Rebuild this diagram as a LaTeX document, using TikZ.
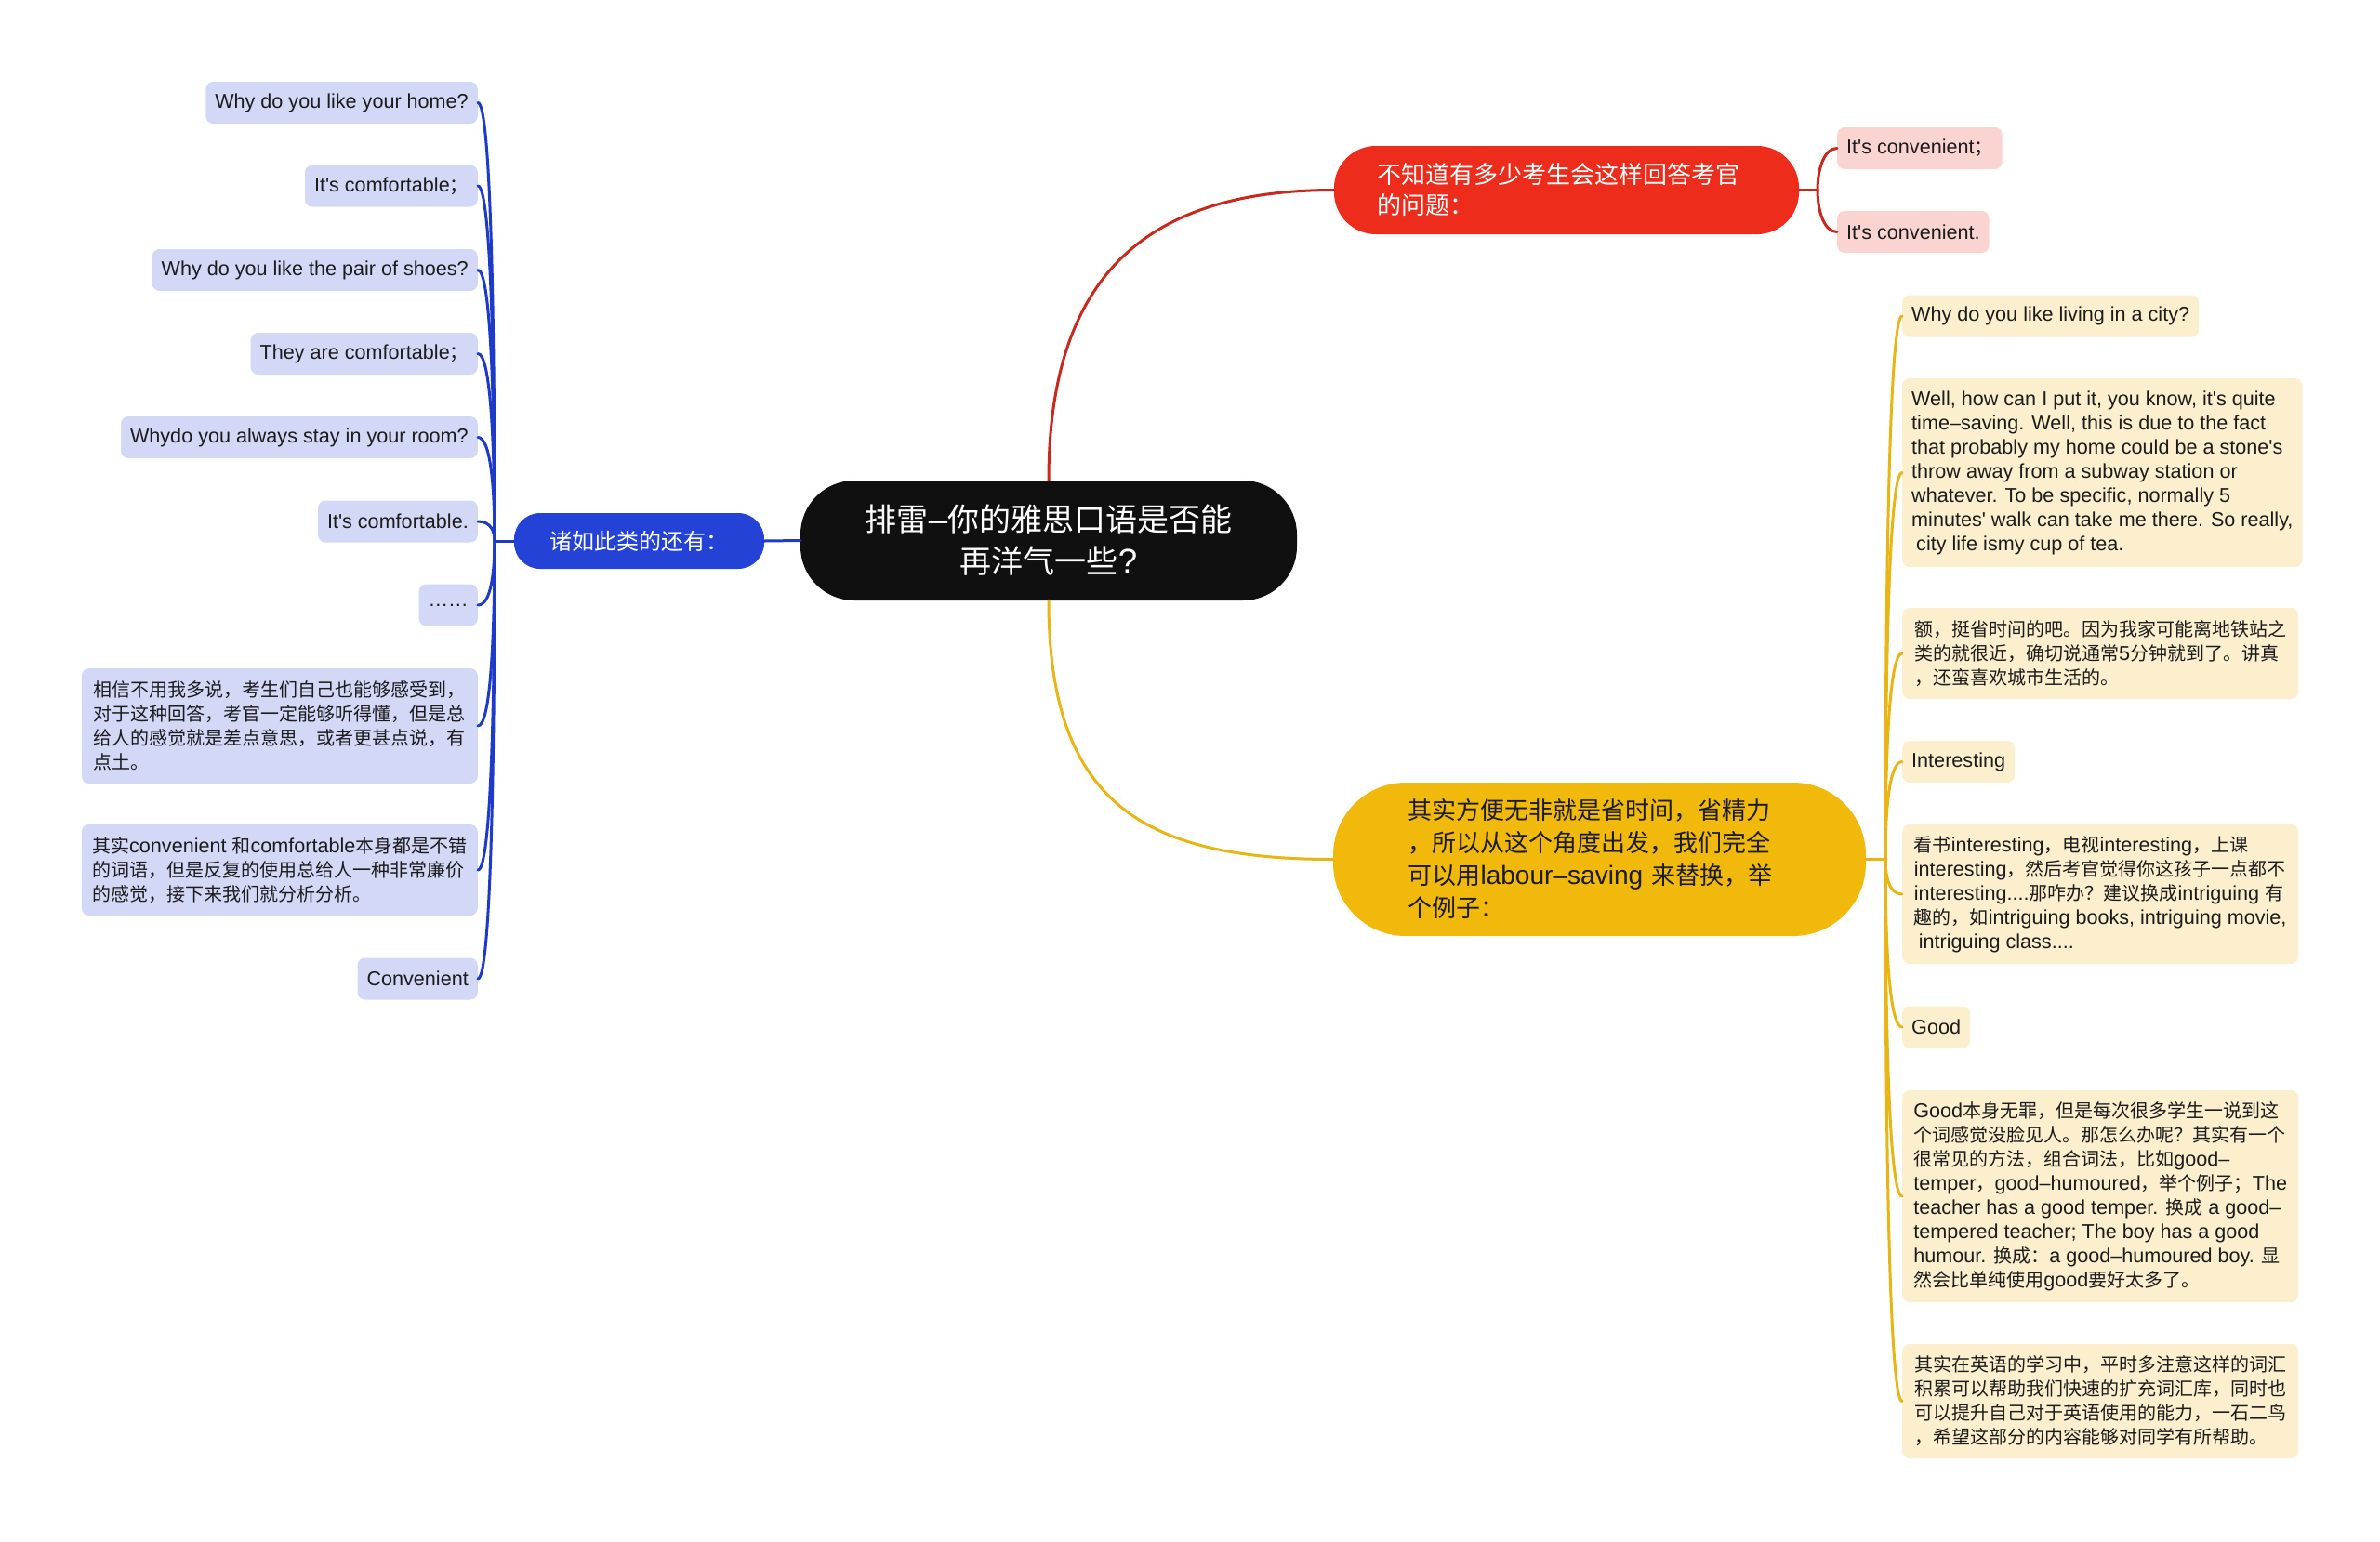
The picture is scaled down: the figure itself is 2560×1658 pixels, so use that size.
\documentclass[tikz,border=0pt]{standalone}
\usepackage{fontspec}
\setmainfont{Liberation Sans}[Scale=1.08, Ligatures=TeXOff]
\newfontfamily\cjkfont{Noto Sans CJK SC}
\XeTeXinterchartokenstate=1
\newXeTeXintercharclass\CJKcls
\newcount\cjkc
\def\setcjkrange#1#2{\cjkc=#1\relax\loop\XeTeXcharclass\cjkc=\CJKcls\ifnum\cjkc<#2\advance\cjkc by 1\repeat}
\setcjkrange{"4E00}{"9FFF}
\setcjkrange{"3000}{"303F}
\setcjkrange{"FF00}{"FFEF}
\XeTeXinterchartoks 0 \CJKcls = {\begingroup\cjkfont}
\XeTeXinterchartoks 4095 \CJKcls = {\begingroup\cjkfont}
\XeTeXinterchartoks \CJKcls 0 = {\endgroup}
\XeTeXinterchartoks \CJKcls 4095 = {\endgroup}
\usetikzlibrary{calc}
\definecolor{cblue}{HTML}{2443D6}
\definecolor{lblue}{HTML}{D3D8F7}
\definecolor{lnblue}{HTML}{1E3AC8}
\definecolor{cred}{HTML}{EE2C1C}
\definecolor{lred}{HTML}{FAD4D0}
\definecolor{lnred}{HTML}{C9281D}
\definecolor{cyel}{HTML}{F0B90C}
\definecolor{lyel}{HTML}{FCEFCE}
\definecolor{lnyel}{HTML}{E9B514}
\definecolor{croot}{HTML}{101010}
\definecolor{txt}{HTML}{1C1C1C}
\newcommand\rconn[3]{\draw[#1] (#2) .. controls ($(#2)!0.5!(#2 |- #3.west)$) and +(-14,0) .. (#3.west);}
\newcommand\lconn[3]{\draw[#1] (#2) .. controls ($(#2)!0.5!(#2 |- #3.east)$) and +(14,0) .. (#3.east);}
\begin{document}
\begin{tikzpicture}[x=1pt,y=-1pt,
  leafbase/.style={rounded corners=8pt, inner xsep=10pt, inner ysep=0pt, minimum height=45pt,
    font=\fontsize{20}{26}\selectfont, text=txt, align=left},
  lb/.style={leafbase, fill=lblue},
  ly/.style={leafbase, fill=lyel},
  lr/.style={leafbase, fill=lred},
  cb/.style={draw=lnblue, line width=3pt, line cap=round},
  cr/.style={draw=lnred, line width=3pt, line cap=round},
  cy/.style={draw=lnyel, line width=3pt, line cap=round},
]
\fill[white] (0,0) rectangle (2560,1658);
\useasboundingbox (0,0) rectangle (2560,1658);

% main nodes
\node[fill=croot, text=white, rounded corners=58pt, minimum width=534pt, minimum height=129pt,
  align=center, font=\fontsize{34}{45}\selectfont, inner sep=0pt] (root) at (1128,581.5)
  {排雷–你的雅思口语是否能\\再洋气一些?};
\node[fill=cblue, text=white, rounded corners=28pt, minimum width=269pt, minimum height=60pt,
  font=\fontsize{24}{30}\selectfont, inner sep=0pt] (blue) at (687.5,582) {诸如此类的还有：};
\node[fill=cred, text=white, rounded corners=45pt, minimum width=500pt, minimum height=95pt,
  text width=408pt, align=left, font=\fontsize{26}{33}\selectfont, inner sep=0pt] (red) at (1685,204.5)
  {不知道有多少考生会这样回答考官\\的问题：};
\node[fill=cyel, text=txt, rounded corners=78pt, minimum width=573pt, minimum height=165pt,
  text width=412pt, align=left, font=\fontsize{26}{35}\selectfont, inner sep=0pt] (yel) at (1720.5,924.5)
  {其实方便无非就是省时间，省精力\\，所以从这个角度出发，我们完全\\可以用labour–saving 来替换，举\\个例子：};

% left (blue) leaves
\node[lb, anchor=east] (b1) at (514,110.5) {Why do you like your home?};
\node[lb, anchor=east] (b2) at (514,200) {It's comfortable；};
\node[lb, anchor=east] (b3) at (514,290.5) {Why do you like the pair of shoes?};
\node[lb, anchor=east] (b4) at (514,380.5) {They are comfortable；};
\node[lb, anchor=east] (b5) at (514,470.5) {Whydo you always stay in your room?};
\node[lb, anchor=east] (b6) at (514,561) {It's comfortable.};
\node[lb, anchor=east, minimum width=60pt] (b7) at (514,651) {……};
\node[lb, minimum width=426pt, minimum height=124pt, anchor=east] (b8) at (514,781)
  {相信不用我多说，考生们自己也能够感受到，\\对于这种回答，考官一定能够听得懂，但是总\\给人的感觉就是差点意思，或者更甚点说，有\\点土。};
\node[lb, minimum width=426pt, minimum height=98pt, anchor=east] (b9) at (514,936)
  {其实convenient 和comfortable本身都是不错\\的词语，但是反复的使用总给人一种非常廉价\\的感觉，接下来我们就分析分析。};
\node[lb, anchor=east] (b10) at (514,1053) {Convenient};

% red leaves
\node[lr, anchor=west] (r1) at (1976,159.5) {It's convenient；};
\node[lr, anchor=west] (r2) at (1976,249.5) {It's convenient.};

% yellow leaves
\node[ly, anchor=west] (y1) at (2046,340) {Why do you like living in a city?};
\node[ly, minimum width=426pt, minimum height=203pt, anchor=west] (y2) at (2046,508.5)
  {Well, how can I put it, you know, it's quite\\time–saving. Well, this is due to the fact\\that probably my home could be a stone's\\throw away from a subway station or\\whatever. To be specific, normally 5\\minutes' walk can take me there. So really,\\\hspace*{5pt}city life ismy cup of tea.};
\node[ly, minimum width=426pt, minimum height=98pt, anchor=west] (y3) at (2046,703)
  {额，挺省时间的吧。因为我家可能离地铁站之\\类的就很近，确切说通常5分钟就到了。讲真\\，还蛮喜欢城市生活的。};
\node[ly, anchor=west] (y4) at (2046,819.5) {Interesting};
\node[ly, minimum width=426pt, minimum height=150pt, anchor=west] (y5) at (2046,962)
  {看书interesting，电视interesting，上课\\interesting，然后考官觉得你这孩子一点都不\\interesting....那咋办？建议换成intriguing 有\\趣的，如intriguing books, intriguing movie,\\\hspace*{5pt}intriguing class....};
\node[ly, anchor=west] (y6) at (2046,1105) {Good};
\node[ly, minimum width=426pt, minimum height=228pt, anchor=west] (y7) at (2046,1287)
  {Good本身无罪，但是每次很多学生一说到这\\个词感觉没脸见人。那怎么办呢？其实有一个\\很常见的方法，组合词法，比如good–\\temper，good–humoured，举个例子；The\\teacher has a good temper. 换成 a good–\\tempered teacher; The boy has a good\\humour. 换成：a good–humoured boy. 显\\然会比单纯使用good要好太多了。};
\node[ly, minimum width=426pt, minimum height=123pt, anchor=west] (y8) at (2046,1507.5)
  {其实在英语的学习中，平时多注意这样的词汇\\积累可以帮助我们快速的扩充词汇库，同时也\\可以提升自己对于英语使用的能力，一石二鸟\\，希望这部分的内容能够对同学有所帮助。};

% junctions
\coordinate (JB) at (532,582);
\coordinate (JR) at (1955,204.5);
\coordinate (JY) at (2028,924.5);

% main connectors
\draw[cb] (root.west) -- (blue.east);
\draw[cr] (root.north) .. controls +(0,-217) and +(-205,0) .. (red.west);
\draw[cy] (root.south) .. controls +(0,217) and +(-205,0) .. (yel.west);

% trunks
\draw[cb] (blue.west) -- (JB);
\draw[cr] (red.east) -- (JR);
\draw[cy] (yel.east) -- (JY);

% branches
\foreach \n in {b1,b2,b3,b4,b5,b6,b7,b8,b9,b10} {\lconn{cb}{JB}{\n}}
\foreach \n in {r1,r2} {\rconn{cr}{JR}{\n}}
\foreach \n in {y1,y2,y3,y4,y5,y6,y7,y8} {\rconn{cy}{JY}{\n}}
\end{tikzpicture}
\end{document}
